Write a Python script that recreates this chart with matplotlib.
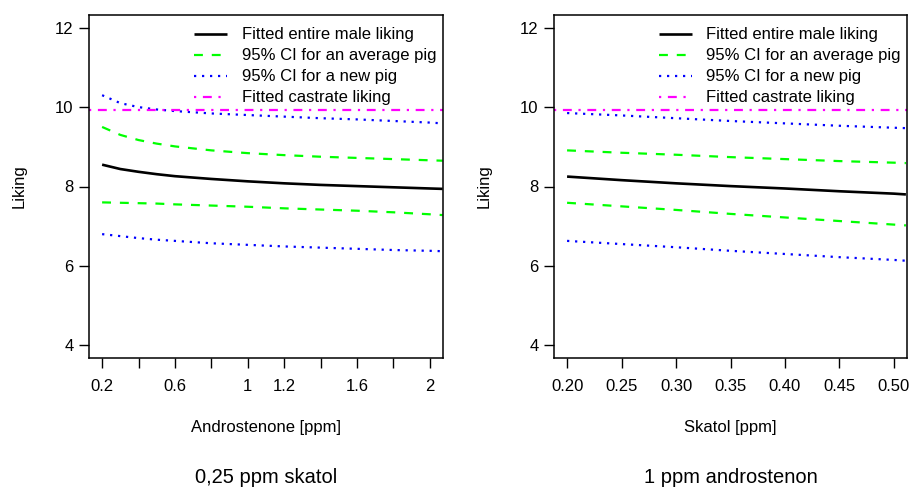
import matplotlib
matplotlib.use("Agg")
import matplotlib.pyplot as plt

plt.rcParams['font.family'] = ['Liberation Sans', 'DejaVu Sans']

# left panel: androstenone at 0.25 ppm skatol
andro = [0.2, 0.3, 0.4, 0.5, 0.6, 0.8, 1.0, 1.2, 1.4, 1.6, 1.8, 2.0, 2.07]
fit_left = [8.55, 8.44, 8.37, 8.31, 8.26, 8.19, 8.13, 8.08, 8.04, 8.01, 7.98, 7.95, 7.94]
ci_avg_hi_left = [9.50, 9.30, 9.17, 9.08, 9.01, 8.91, 8.84, 8.79, 8.75, 8.72, 8.69, 8.66, 8.65]
ci_avg_lo_left = [7.60, 7.59, 7.58, 7.57, 7.55, 7.52, 7.49, 7.45, 7.42, 7.39, 7.35, 7.30, 7.28]
ci_new_hi_left = [10.30, 10.10, 10.00, 9.94, 9.90, 9.84, 9.80, 9.76, 9.72, 9.69, 9.65, 9.61, 9.59]
ci_new_lo_left = [6.80, 6.75, 6.70, 6.66, 6.63, 6.57, 6.53, 6.49, 6.46, 6.43, 6.40, 6.38, 6.37]
castrate_left = 9.92

# right panel: skatol at 1 ppm androstenon
skatol = [0.20, 0.25, 0.30, 0.35, 0.40, 0.45, 0.50, 0.511]
fit_right = [8.25, 8.16, 8.08, 8.01, 7.95, 7.88, 7.82, 7.80]
ci_avg_hi_right = [8.91, 8.85, 8.80, 8.74, 8.69, 8.64, 8.60, 8.59]
ci_avg_lo_right = [7.59, 7.50, 7.41, 7.31, 7.22, 7.13, 7.04, 7.02]
ci_new_hi_right = [9.85, 9.79, 9.72, 9.65, 9.59, 9.53, 9.48, 9.47]
ci_new_lo_right = [6.63, 6.55, 6.47, 6.38, 6.30, 6.22, 6.15, 6.13]
castrate_right = 9.92

left_ticks = [0.2, 0.4, 0.6, 0.8, 1.0, 1.2, 1.4, 1.6, 1.8, 2.0]
left_ticklabels = ['0.2', '', '0.6', '', '1', '1.2', '', '1.6', '', '2']
right_ticks = [0.20, 0.25, 0.30, 0.35, 0.40, 0.45, 0.50]
right_ticklabels = ['0.20', '0.25', '0.30', '0.35', '0.40', '0.45', '0.50']
y_ticks = [4, 6, 8, 10, 12]

legend_labels = ['Fitted entire male liking', '95% CI for an average pig',
                 '95% CI for a new pig', 'Fitted castrate liking']

fig = plt.figure(figsize=(9.15, 4.88), dpi=100)
ax1 = fig.add_axes([89/915, 1-358/488, 354/915, 343/488])
ax2 = fig.add_axes([554/915, 1-358/488, 353/915, 343/488])

LW = 1.6
FS = 12
panels = [
    (ax1, andro, fit_left, ci_avg_hi_left, ci_avg_lo_left, ci_new_hi_left, ci_new_lo_left,
     castrate_left, (0.128, 2.072), left_ticks, left_ticklabels, 'Androstenone [ppm]', '0,25 ppm skatol'),
    (ax2, skatol, fit_right, ci_avg_hi_right, ci_avg_lo_right, ci_new_hi_right, ci_new_lo_right,
     castrate_right, (0.188, 0.512), right_ticks, right_ticklabels, 'Skatol [ppm]', '1 ppm androstenon'),
]

for ax, x, fit, ahi, alo, nhi, nlo, cast, xlim, ticks, tlabels, xlab, title in panels:
    h1, = ax.plot(x, fit, color='black', lw=LW + 0.3, solid_capstyle='butt')
    h2, = ax.plot(x, ahi, color='#00ff00', lw=LW, dashes=(4, 4))
    ax.plot(x, alo, color='#00ff00', lw=LW, dashes=(4, 4))
    h3, = ax.plot(x, nhi, color='#0000ff', lw=LW, dashes=(1, 2.6))
    ax.plot(x, nlo, color='#0000ff', lw=LW, dashes=(1, 2.6))
    h4 = ax.axhline(cast, color='#ff00ff', lw=LW, dashes=(1, 3, 4, 3))

    ax.set_xlim(*xlim)
    ax.set_ylim(3.68, 12.32)
    ax.set_xticks(ticks)
    ax.set_xticklabels(tlabels)
    ax.set_yticks(y_ticks)
    ax.tick_params(direction='out', length=7, width=1, labelsize=FS, colors='black')
    ax.tick_params(axis='x', pad=8)
    ax.tick_params(axis='y', pad=4)
    for s in ax.spines.values():
        s.set_linewidth(1.1)

    ax.set_xlabel(xlab, fontsize=FS)
    ax.xaxis.set_label_coords(0.5, -0.182)
    ax.set_ylabel('Liking', fontsize=FS, va='center')
    ax.yaxis.set_label_coords(-0.197, 0.5)

    ax.legend([h1, h2, h3, h4], legend_labels, loc='upper left',
              bbox_to_anchor=(0.297, 0.964), frameon=False, fontsize=FS,
              borderpad=0, borderaxespad=0, handlelength=2.0, handletextpad=0.85,
              labelspacing=0.36)

    pos = ax.get_position()
    fig.text(pos.x0 + pos.width / 2, 1 - 483/488, title, ha='center', va='baseline', fontsize=14.5)

fig.savefig('out.png', dpi=100)
